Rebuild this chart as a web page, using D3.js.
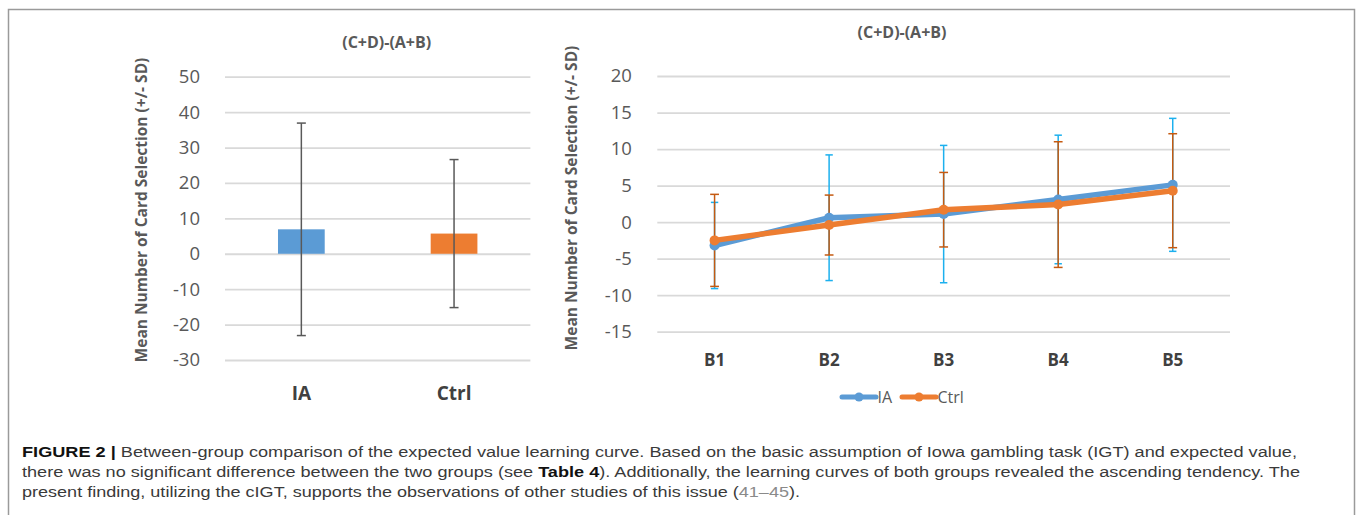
<!DOCTYPE html>
<html>
<head>
<meta charset="utf-8">
<script src="https://cdn.jsdelivr.net/npm/d3@7"></script>
<style>
  body { margin: 0; background: #fff; }
  svg { display: block; }
</style>
</head>
<body>
<div id="chart"></div>
<script>
// Data
const groups = ["IA", "Ctrl"];
const groupMeans = [6.9, 5.7];
const groupSD = [30.0, 20.9];

const blocks = ["B1", "B2", "B3", "B4", "B5"];
const iaMeans = [-3.2, 0.6, 1.1, 3.1, 5.1];
const iaSD = [5.9, 8.6, 9.4, 8.8, 9.1];
const ctrlMeans = [-2.5, -0.4, 1.7, 2.4, 4.3];
const ctrlSD = [6.3, 4.1, 5.1, 8.6, 7.8];

const leftTicks = [-30, -20, -10, 0, 10, 20, 30, 40, 50];
const rightTicks = [-15, -10, -5, 0, 5, 10, 15, 20];

const captionLines = [
  [["FIGURE 2 | ", "bold"], ["Between-group comparison of the expected value learning curve. Based on the basic assumption of Iowa gambling task (IGT) and expected value,", ""]],
  [["there was no significant difference between the two groups (see ", ""], ["Table 4", "bold"], ["). Additionally, the learning curves of both groups revealed the ascending tendency. The", ""]],
  [["present finding, utilizing the cIGT, supports the observations of other studies of this issue (", ""], ["41–45", "link"], [").", ""]]
];
const captionEnds = [1297, 1300, 800];

const width = 1357;
const height = 515;
const gray = "#595959";
const blue = "#5b9bd5";
const orange = "#ed7d31";

const svg = d3.select("#chart")
  .append("svg")
  .attr("width", width)
  .attr("height", height);

// Outer frame (bottom edge runs off the picture)
svg.append("path")
  .attr("d", "M8.5,530 V9.5 H1354.5 V530")
  .attr("fill", "none")
  .attr("stroke", "#9a9a9a")
  .attr("stroke-width", 1.5);

const font = "'Open Sans', sans-serif";

function drawYAxis(g, y, ticks, x0, x1, pad) {
  const axis = g.append("g")
    .attr("transform", `translate(${x0},0)`)
    .call(d3.axisLeft(y)
      .tickValues(ticks)
      .tickSize(-(x1 - x0))
      .tickPadding(pad)
      .tickFormat(d => String(d)));
  axis.select(".domain").remove();
  axis.selectAll(".tick line")
    .attr("stroke", "#d9d9d9")
    .attr("stroke-width", 1.8);
  axis.selectAll(".tick text")
    .attr("fill", gray)
    .style("font-family", font)
    .style("font-size", "18.5px");
}

// ---------------- Left chart: bar chart ----------------
const left = svg.append("g");
const yL = d3.scaleLinear().domain([-30, 50]).range([360, 76.7]);
const xL = d3.scaleBand().domain(groups).range([225, 530.4])
  .paddingInner(0.694).paddingOuter(0.347);

drawYAxis(left, yL, leftTicks, 225, 530.4, 25);

left.selectAll("rect.bar")
  .data(groups)
  .join("rect")
  .attr("class", "bar")
  .attr("x", d => xL(d))
  .attr("width", xL.bandwidth())
  .attr("y", (d, i) => yL(Math.max(0, groupMeans[i])))
  .attr("height", (d, i) => Math.abs(yL(groupMeans[i]) - yL(0)))
  .attr("fill", (d, i) => i === 0 ? blue : orange);

const errL = left.selectAll("g.err")
  .data(groups)
  .join("g")
  .attr("class", "err")
  .attr("stroke", gray)
  .attr("stroke-width", 1.5);
errL.append("line")
  .attr("x1", d => xL(d) + xL.bandwidth() / 2)
  .attr("x2", d => xL(d) + xL.bandwidth() / 2)
  .attr("y1", (d, i) => yL(groupMeans[i] + groupSD[i]))
  .attr("y2", (d, i) => yL(groupMeans[i] - groupSD[i]));
[1, -1].forEach(s => {
  errL.append("line")
    .attr("x1", d => xL(d) + xL.bandwidth() / 2 - 4.5)
    .attr("x2", d => xL(d) + xL.bandwidth() / 2 + 4.5)
    .attr("y1", (d, i) => yL(groupMeans[i] + s * groupSD[i]))
    .attr("y2", (d, i) => yL(groupMeans[i] + s * groupSD[i]));
});

left.selectAll("text.cat")
  .data(groups)
  .join("text")
  .attr("class", "cat")
  .attr("x", d => xL(d) + xL.bandwidth() / 2)
  .attr("y", 400)
  .attr("text-anchor", "middle")
  .attr("fill", "#404040")
  .style("font-family", font)
  .style("font-weight", "bold")
  .style("font-size", "19px")
  .text(d => d);

left.append("text")
  .attr("x", 386.7)
  .attr("y", 47.5)
  .attr("text-anchor", "middle")
  .attr("fill", gray)
  .style("font-family", font)
  .style("font-weight", "bold")
  .style("font-size", "16px")
  .text("(C+D)-(A+B)");

left.append("text")
  .attr("transform", "translate(147,210) rotate(-90)")
  .attr("text-anchor", "middle")
  .attr("fill", gray)
  .style("font-family", font)
  .style("font-weight", "bold")
  .style("font-size", "15.5px")
  .text("Mean Number of Card Selection (+/- SD)");

// ---------------- Right chart: learning curves ----------------
const right = svg.append("g");
const yR = d3.scaleLinear().domain([-15, 20]).range([331.7, 76]);
const xR = d3.scalePoint().domain(blocks).range([657.3, 1230]).padding(0.5);

drawYAxis(right, yR, rightTicks, 657.3, 1230, 25.5);

const series = [
  { name: "IA", means: iaMeans, sd: iaSD, color: blue, errColor: "#1cb0ee", cap: 3.7 },
  { name: "Ctrl", means: ctrlMeans, sd: ctrlSD, color: orange, errColor: "#c55a11", cap: 4.4 }
];

series.forEach(s => {
  const g = right.append("g")
    .attr("stroke", s.errColor)
    .attr("stroke-width", 1.5);
  blocks.forEach((b, i) => {
    const cx = xR(b);
    const hi = yR(s.means[i] + s.sd[i]);
    const lo = yR(s.means[i] - s.sd[i]);
    g.append("line").attr("x1", cx).attr("x2", cx).attr("y1", hi).attr("y2", lo);
    g.append("line").attr("x1", cx - s.cap).attr("x2", cx + s.cap).attr("y1", hi).attr("y2", hi);
    g.append("line").attr("x1", cx - s.cap).attr("x2", cx + s.cap).attr("y1", lo).attr("y2", lo);
  });
});

const line = d3.line().x((d, i) => xR(blocks[i])).y(d => yR(d));
series.forEach(s => {
  right.append("path")
    .datum(s.means)
    .attr("d", line)
    .attr("fill", "none")
    .attr("stroke", s.color)
    .attr("stroke-width", 5.5)
    .attr("stroke-linejoin", "round");
  right.selectAll(null)
    .data(s.means)
    .join("circle")
    .attr("cx", (d, i) => xR(blocks[i]))
    .attr("cy", d => yR(d))
    .attr("r", 5)
    .attr("fill", s.color);
});

right.selectAll("text.cat")
  .data(blocks)
  .join("text")
  .attr("class", "cat")
  .attr("x", d => xR(d))
  .attr("y", 366)
  .attr("text-anchor", "middle")
  .attr("fill", "#404040")
  .style("font-family", font)
  .style("font-weight", "bold")
  .style("font-size", "17px")
  .text(d => d);

right.append("text")
  .attr("x", 902)
  .attr("y", 38)
  .attr("text-anchor", "middle")
  .attr("fill", gray)
  .style("font-family", font)
  .style("font-weight", "bold")
  .style("font-size", "16px")
  .text("(C+D)-(A+B)");

right.append("text")
  .attr("transform", "translate(577,198) rotate(-90)")
  .attr("text-anchor", "middle")
  .attr("fill", gray)
  .style("font-family", font)
  .style("font-weight", "bold")
  .style("font-size", "15.5px")
  .text("Mean Number of Card Selection (+/- SD)");

// Legend
const legendItems = [
  { name: "IA", color: blue, x: 842 },
  { name: "Ctrl", color: orange, x: 902 }
];
const lg = right.selectAll("g.legend")
  .data(legendItems)
  .join("g")
  .attr("class", "legend")
  .attr("transform", d => `translate(${d.x},397)`);
lg.append("line")
  .attr("x1", 0).attr("x2", 34)
  .attr("stroke", d => d.color)
  .attr("stroke-width", 5)
  .attr("stroke-linecap", "round");
lg.append("circle")
  .attr("cx", 17).attr("r", 4.5)
  .attr("fill", d => d.color);
lg.append("text")
  .attr("x", 35.5)
  .attr("y", 6)
  .attr("fill", gray)
  .style("font-family", font)
  .style("font-size", "16px")
  .text(d => d.name);

// ---------------- Caption ----------------
const cap = svg.append("g")
  .style("font-family", "'Liberation Sans', Arial, sans-serif")
  .style("font-size", "15.5px");
captionLines.forEach((parts, li) => {
  const t = cap.append("text")
    .attr("x", 22)
    .attr("y", 457 + li * 20)
    .attr("fill", "#3a3a3a")
    .attr("textLength", captionEnds[li] - 22)
    .attr("lengthAdjust", "spacingAndGlyphs");
  parts.forEach(([txt, kind]) => {
    t.append("tspan")
      .attr("font-weight", kind === "bold" ? "bold" : null)
      .attr("fill", kind === "link" ? "#8a8a8a" : kind === "bold" ? "#111" : null)
      .text(txt);
  });
});
</script>
</body>
</html>
